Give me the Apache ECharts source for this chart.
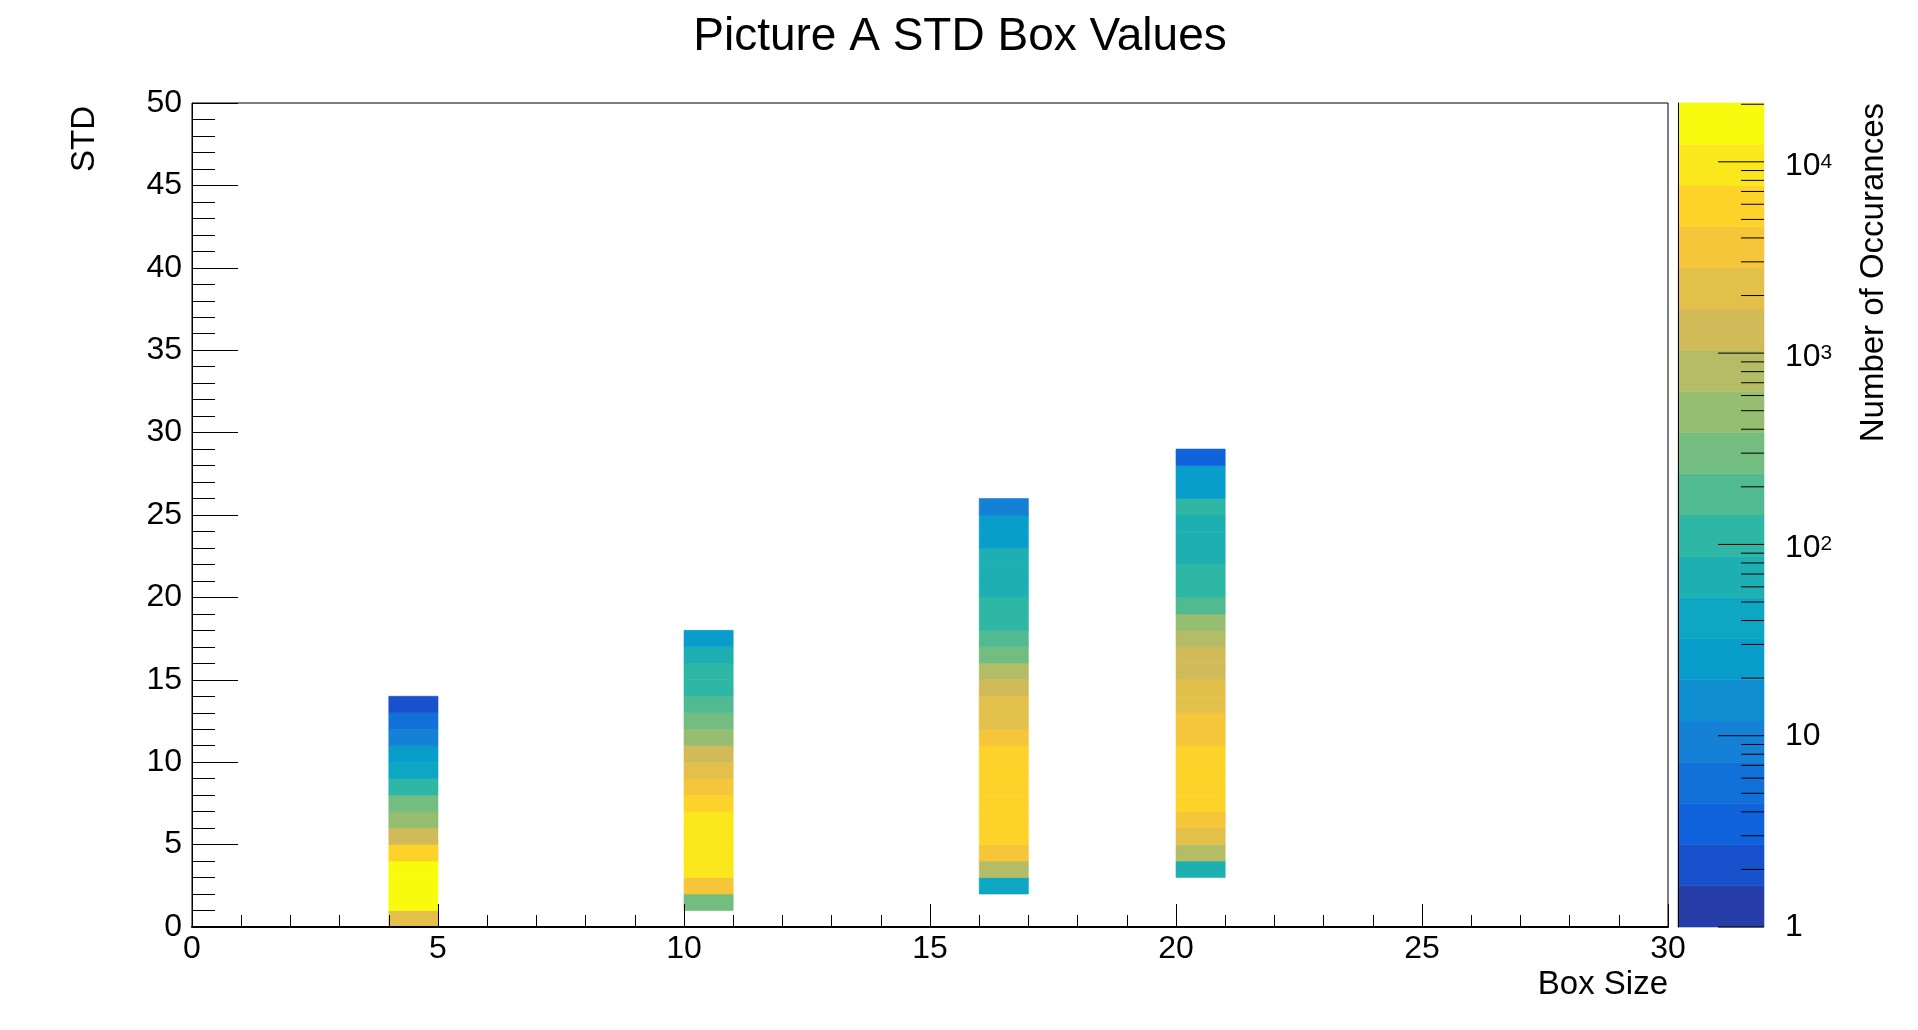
<!DOCTYPE html>
<html>
<head>
<meta charset="utf-8">
<script src="https://cdn.jsdelivr.net/npm/echarts@6/dist/echarts.min.js"></script>
<style>
html,body{margin:0;padding:0;background:#fff;}
#chart{width:1918px;height:1030px;}
</style>
</head>
<body>
<div id="chart"></div>
<script>
// ---- texts ----
const titleText = 'Picture A STD Box Values';
const xAxisTitle = 'Box Size';
const yAxisTitle = 'STD';
const zAxisTitle = 'Number of Occurances';

// ---- data ----
// x bin (box size, lower edge) of each column
const boxSizes = [4, 10, 16, 20];
// lower edge of the first STD bin of each column
const stdStarts = [0, 1, 2, 3];
// counts per unit STD bin, from the lowest bin upward
const countsBox4  = [2200, 15600, 20100, 17800, 6100, 1300, 480, 310, 110, 42, 26, 9, 6, 2];
const countsBox10 = [290, 3500, 9800, 10500, 9300, 8700, 5900, 3600, 2100, 1350, 500, 300, 180, 115, 105, 70, 25];
const countsBox16 = [40, 800, 3500, 5600, 6200, 6500, 6300, 5800, 5300, 3400, 2300, 2000, 1300, 780, 310, 190, 120, 100, 72, 65, 58, 27, 22, 8];
const countsBox20 = [75, 820, 2300, 3700, 5500, 6000, 6100, 5700, 3300, 3000, 2400, 1900, 1250, 1200, 800, 450, 200, 125, 105, 68, 60, 55, 110, 24, 20, 3];
const columnCounts = [countsBox4, countsBox10, countsBox16, countsBox20];

// axis ranges / ticks
const xMin = 0, xMax = 30, xInterval = 5;
const yMin = 0, yMax = 50, yInterval = 5;
const zMin = 1, zMax = 20300;
const zMajorTicks = [1, 10, 100, 1000, 10000];
const zMinorMultipliers = [2, 3, 4, 5, 6, 7, 8, 9];
const nContours = 20;

// ROOT kBird palette
const birdStops = [0.0000, 0.1250, 0.2500, 0.3750, 0.5000, 0.6250, 0.7500, 0.8750, 1.0000];
const birdRed   = [0.2082, 0.0592, 0.0780, 0.0232, 0.1802, 0.5301, 0.8186, 0.9956, 0.9764];
const birdGreen = [0.1664, 0.3599, 0.5041, 0.6419, 0.7178, 0.7492, 0.7328, 0.7862, 0.9832];
const birdBlue  = [0.5293, 0.8684, 0.8385, 0.7914, 0.6425, 0.4662, 0.3499, 0.1968, 0.0539];

const FONT = '"Liberation Sans", Arial, Helvetica, sans-serif';

function paletteAt(t) {
  let k = 0;
  while (k < birdStops.length - 2 && t > birdStops[k + 1]) k++;
  const f = (t - birdStops[k]) / (birdStops[k + 1] - birdStops[k]);
  const c = (a) => Math.round(255 * (a[k] + (a[k + 1] - a[k]) * f));
  return 'rgb(' + c(birdRed) + ',' + c(birdGreen) + ',' + c(birdBlue) + ')';
}
const NCOL = 255;
const bandColors = [];
for (let i = 0; i < nContours; i++) {
  const idx = Math.floor((i + 0.99) * NCOL / nContours);
  bandColors.push(paletteAt(idx / (NCOL - 1)));
}
const lzMin = Math.log10(zMin), lzMax = Math.log10(zMax);
function colorFor(z) {
  let b = Math.floor((Math.log10(z) - lzMin) / (lzMax - lzMin) * nContours);
  b = Math.max(0, Math.min(nContours - 1, b));
  return bandColors[b];
}

// cells: [x, y, count]
const cells = [];
columnCounts.forEach((arr, j) => {
  arr.forEach((v, k) => cells.push([boxSizes[j], stdStarts[j] + k, v]));
});

// color bar bands: [lowValue, highValue, bandIndex]
const bands = [];
for (let i = 0; i < nContours; i++) {
  bands.push([Math.pow(10, lzMin + (lzMax - lzMin) * i / nContours),
              Math.pow(10, lzMin + (lzMax - lzMin) * (i + 1) / nContours), i]);
}
// color bar ticks: [x, value, isMajor]
const zTicks = [];
zMajorTicks.forEach(m => {
  zTicks.push([1, m, 1]);
  zMinorMultipliers.forEach(k => { if (m * k <= zMax) zTicks.push([1, m * k, 0]); });
});

const chart = echarts.init(document.getElementById('chart'), null, {renderer: 'canvas'});

const labelStyle = {color: '#000', fontSize: 32, fontFamily: FONT};

const option = {
  animation: false,
  backgroundColor: '#fff',
  grid: [
    {left: 192, top: 103, width: 1476, height: 824, show: true, borderColor: '#000', borderWidth: 1, backgroundColor: 'transparent'},
    {left: 1678, top: 103, width: 86, height: 824, show: false}
  ],
  xAxis: [
    {
      gridIndex: 0, type: 'value', min: xMin, max: xMax, interval: xInterval, z: 10,
      axisLine: {show: true, onZero: false, lineStyle: {color: '#000', width: 2}},
      axisTick: {show: true, inside: true, length: 23, lineStyle: {color: '#000', width: 1}},
      minorTick: {show: true, splitNumber: 5, length: 12, lineStyle: {color: '#000', width: 1}},
      axisLabel: Object.assign({margin: 6}, labelStyle),
      splitLine: {show: false}, minorSplitLine: {show: false}
    },
    {gridIndex: 1, type: 'value', min: 0, max: 1, show: false}
  ],
  yAxis: [
    {
      gridIndex: 0, type: 'value', min: yMin, max: yMax, interval: yInterval, z: 10,
      axisLine: {show: true, onZero: false, lineStyle: {color: '#000', width: 1}},
      axisTick: {show: true, inside: true, length: 46, lineStyle: {color: '#000', width: 1}},
      minorTick: {show: true, splitNumber: 5, length: 23, lineStyle: {color: '#000', width: 1}},
      axisLabel: Object.assign({margin: 10}, labelStyle),
      splitLine: {show: false}, minorSplitLine: {show: false}
    },
    {
      gridIndex: 1, type: 'log', logBase: 10, min: zMin, max: zMax, position: 'right', z: 10,
      axisLine: {show: true, lineStyle: {color: '#000', width: 1}},
      axisTick: {show: false},
      splitLine: {show: false},
      axisLabel: Object.assign({
        margin: 21, showMaxLabel: true,
        formatter: function (v) {
          const e = Math.log10(v), r = Math.round(e);
          if (Math.abs(e - r) > 1e-6) return '';
          if (r === 0) return '1';
          if (r === 1) return '10';
          return '{b|10}{s|' + r + '}';
        },
        rich: {
          b: {fontSize: 32, lineHeight: 32, verticalAlign: 'bottom', color: '#000', fontFamily: FONT},
          s: {fontSize: 21, lineHeight: 40, color: '#000', fontFamily: FONT}
        }
      }, labelStyle)
    }
  ],
  series: [
    {
      type: 'custom', name: 'cells', xAxisIndex: 0, yAxisIndex: 0, z: 2,
      data: cells,
      encode: {x: 0, y: 1},
      renderItem: function (params, api) {
        const x = api.value(0), y = api.value(1), z = api.value(2);
        const p0 = api.coord([x, y + 1]);
        const p1 = api.coord([x + 1, y]);
        const col = colorFor(z);
        return {type: 'rect', shape: {x: p0[0], y: p0[1], width: p1[0] - p0[0], height: p1[1] - p0[1]},
                style: {fill: col, stroke: col, lineWidth: 0.6}};
      }
    },
    {
      type: 'custom', name: 'colorbar', xAxisIndex: 1, yAxisIndex: 1, z: 2,
      data: bands,
      encode: {y: 0},
      renderItem: function (params, api) {
        const lo = api.value(0), hi = api.value(1), i = api.value(2);
        const p0 = api.coord([0, hi]);
        const p1 = api.coord([1, lo]);
        const col = bandColors[i];
        return {type: 'rect', shape: {x: p0[0], y: p0[1], width: p1[0] - p0[0], height: p1[1] - p0[1]},
                style: {fill: col, stroke: col, lineWidth: 0.6}};
      }
    },
    {
      type: 'custom', name: 'zticks', xAxisIndex: 1, yAxisIndex: 1, z: 12,
      data: zTicks,
      encode: {x: 0, y: 1},
      renderItem: function (params, api) {
        const p = api.coord([api.value(0), api.value(1)]);
        const len = api.value(2) ? 46 : 23;
        return {type: 'line', shape: {x1: p[0], y1: p[1], x2: p[0] - len, y2: p[1]},
                style: {stroke: '#000', lineWidth: 1}};
      }
    }
  ],
  graphic: [
    {type: 'text', x: 960, y: 37, z: 20,
     style: {text: titleText, align: 'center', verticalAlign: 'middle', fill: '#000', fontSize: 46, fontFamily: FONT}},
    {type: 'text', x: 1668, y: 985, z: 20,
     style: {text: xAxisTitle, align: 'right', verticalAlign: 'middle', fill: '#000', fontSize: 33, fontFamily: FONT}},
    {type: 'text', x: 85, y: 106, rotation: Math.PI / 2, z: 20,
     style: {text: yAxisTitle, align: 'right', verticalAlign: 'middle', fill: '#000', fontSize: 33, fontFamily: FONT}},
    {type: 'text', x: 1874, y: 103, rotation: Math.PI / 2, z: 20,
     style: {text: zAxisTitle, align: 'right', verticalAlign: 'middle', fill: '#000', fontSize: 33, fontFamily: FONT}}
  ]
};
chart.setOption(option);
</script>
</body>
</html>
